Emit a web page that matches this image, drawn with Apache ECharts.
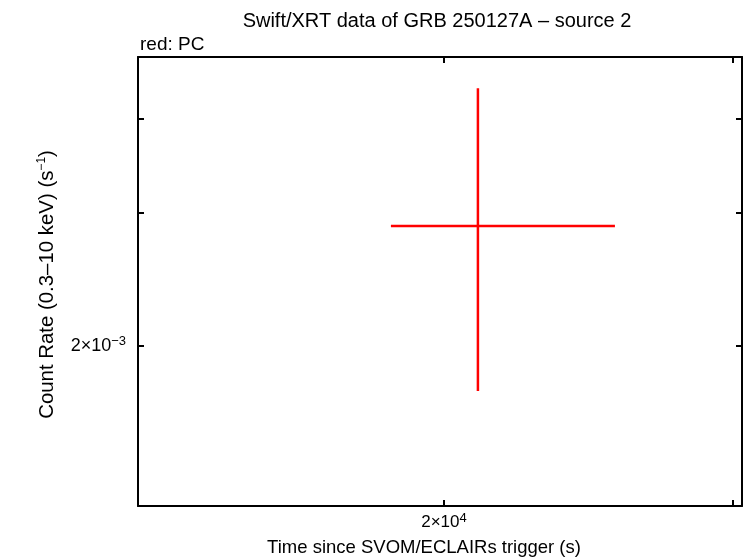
<!DOCTYPE html>
<html><head><meta charset="utf-8">
<script src="https://cdn.jsdelivr.net/npm/echarts@6/dist/echarts.min.js"></script>
<style>html,body{margin:0;padding:0;background:#fff}#c{width:746px;height:558px}</style>
</head><body><div id="c"></div>
<script>
// Data
const timeCenter = [20975];
const timeLow = [18565];
const timeHigh = [25420];
const rateCenter = [2.884e-3];
const rateLow = [1.743e-3];
const rateHigh = [4.392e-3];
// Axis ranges and ticks
const xRange = [13020, 30380];
const yRange = [1.227e-3, 4.83e-3];
const xTicks = [20000, 30000];
const xLabels = [20000];
const yTicks = [2e-3, 3e-3, 4e-3];
const yLabels = [2e-3];

const FONT = 'Liberation Sans';
const chart = echarts.init(document.getElementById('c'));

function sciLabel(v) {
  const e = Math.floor(Math.log10(v) + 1e-9);
  const m = Math.round(v / Math.pow(10, e));
  const es = e < 0 ? '\u2212' + (-e) : String(e);
  return '{b|' + m + '\u00d710}{s|' + es + '}';
}
const richX = {
  b: {fontFamily: FONT, fontSize: 17, color: '#000'},
  s: {fontFamily: FONT, fontSize: 13, color: '#000', verticalAlign: 'bottom', padding: [0, 0, 8, 0]}
};
const richY = {
  b: {fontFamily: FONT, fontSize: 18, color: '#000'},
  s: {fontFamily: FONT, fontSize: 13, color: '#000', verticalAlign: 'bottom', padding: [0, 0, 8, 0]}
};
const lineStyle = {color: '#000', width: 2};

const series = [];
for (let i = 0; i < timeCenter.length; i++) {
  series.push({
    type: 'line', showSymbol: false, silent: true, animation: false,
    lineStyle: {color: '#ff0000', width: 2.5},
    data: [[timeLow[i], rateCenter[i]], [timeHigh[i], rateCenter[i]]]
  });
  series.push({
    type: 'line', showSymbol: false, silent: true, animation: false,
    lineStyle: {color: '#ff0000', width: 2.5},
    data: [[timeCenter[i], rateLow[i]], [timeCenter[i], rateHigh[i]]]
  });
}

chart.setOption({
  animation: false,
  backgroundColor: '#fff',
  title: [
    {text: 'Swift/XRT data of GRB 250127A \u2013 source 2', left: 432, top: 6, textAlign: 'center',
     textStyle: {fontFamily: FONT, fontSize: 20, fontWeight: 'normal', color: '#000'}},
    {text: 'red: PC', left: 135, top: 30,
     textStyle: {fontFamily: FONT, fontSize: 19, fontWeight: 'normal', color: '#000'}}
  ],
  grid: {left: 138, width: 604, top: 57, height: 449, containLabel: false, outerBoundsMode: 'none'},
  xAxis: [
    {type: 'log', min: xRange[0], max: xRange[1], position: 'bottom',
     axisLine: {show: true, lineStyle: lineStyle},
     axisTick: {show: true, inside: true, length: 6, lineStyle: lineStyle, customValues: xTicks},
     axisLabel: {show: true, customValues: xLabels, formatter: v => sciLabel(v), rich: richX, margin: 6},
     minorTick: {show: false}, splitLine: {show: false},
     name: 'Time since SVOM/ECLAIRs trigger (s)', nameLocation: 'middle', nameGap: 32,
     nameTextStyle: {fontFamily: FONT, fontSize: 18.5, color: '#000', padding: [0, 32, 0, 0]}},
    {type: 'log', min: xRange[0], max: xRange[1], position: 'top',
     axisLine: {show: true, lineStyle: lineStyle},
     axisTick: {show: true, inside: true, length: 6, lineStyle: lineStyle, customValues: xTicks},
     axisLabel: {show: false}, splitLine: {show: false}}
  ],
  yAxis: [
    {type: 'log', min: yRange[0], max: yRange[1], position: 'left',
     axisLine: {show: true, lineStyle: lineStyle},
     axisTick: {show: true, inside: true, length: 6, lineStyle: lineStyle, customValues: yTicks},
     axisLabel: {show: true, customValues: yLabels, formatter: v => sciLabel(v), rich: richY, margin: 12},
     splitLine: {show: false},
     name: 'Count Rate (0.3\u201310 keV) (s{s|\u22121})', nameLocation: 'middle', nameGap: 80,
     nameTextStyle: {fontFamily: FONT, fontSize: 20.4, color: '#000', padding: [0, 6, 0, 0],
       rich: {s: {fontFamily: FONT, fontSize: 12, color: '#000', verticalAlign: 'bottom', padding: [0, 0, 10, 0]}}}},
    {type: 'log', min: yRange[0], max: yRange[1], position: 'right',
     axisLine: {show: true, lineStyle: lineStyle},
     axisTick: {show: true, inside: true, length: 6, lineStyle: lineStyle, customValues: yTicks},
     axisLabel: {show: false}, splitLine: {show: false}}
  ],
  series: series
});
</script>
</body></html>
